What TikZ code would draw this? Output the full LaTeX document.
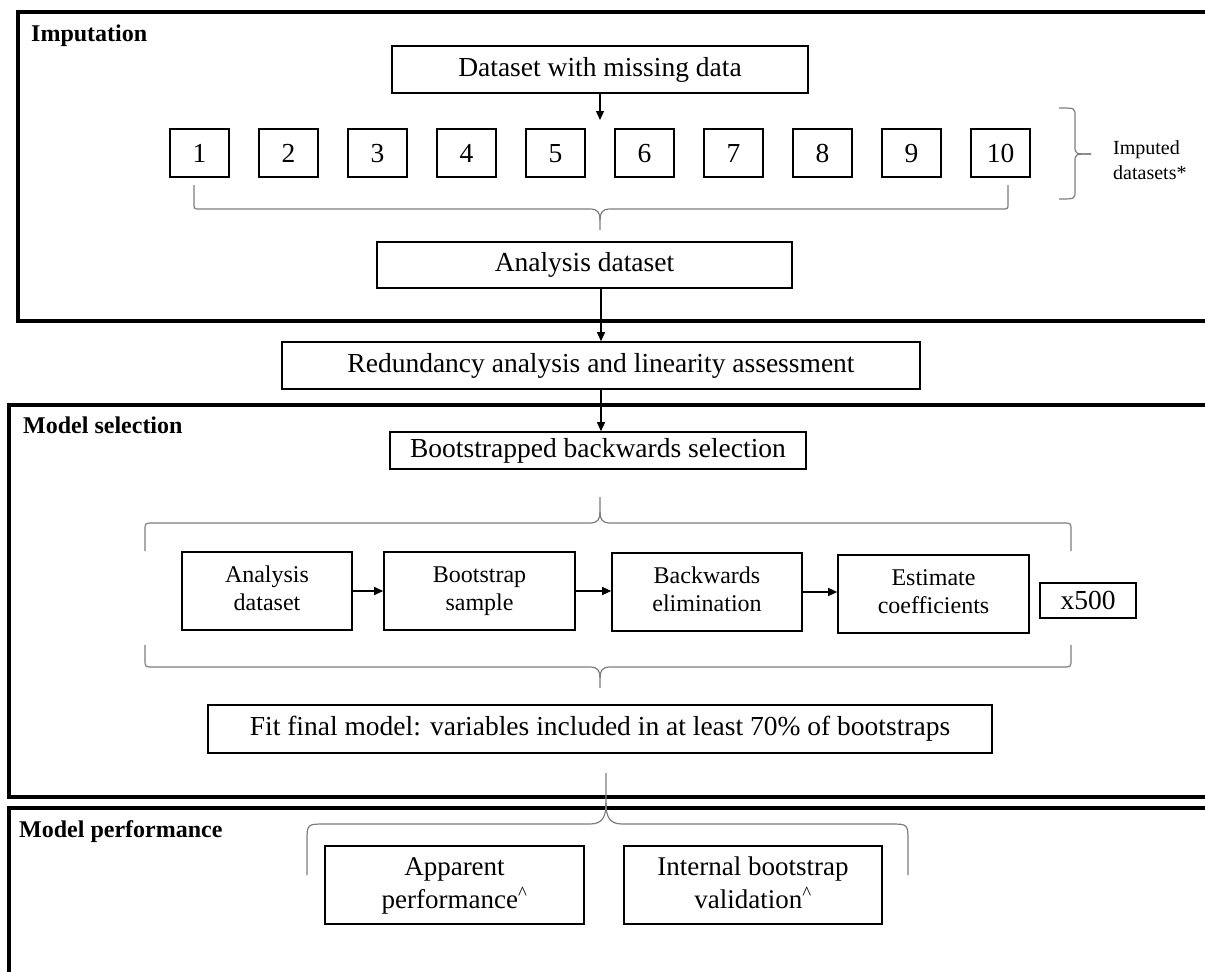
\documentclass[tikz,border=0pt]{standalone}
\usepackage{fontspec}
\setmainfont{Liberation Serif}
\usetikzlibrary{arrows.meta}
\definecolor{bracegray}{RGB}{125,125,125}
\tikzset{
  box/.style={draw=black, line width=1.6pt, inner sep=0pt, align=center,
    font=\fontsize{27.5}{33}\selectfont},
  numbox/.style={draw=black, line width=1.6pt, inner sep=0pt,
    font=\fontsize{27.5}{33}\selectfont, minimum width=59pt, minimum height=48pt,
    text height=19pt, text depth=0pt},
  small/.style={box, font=\fontsize{24}{28}\selectfont, minimum height=78pt},
  panel/.style={draw=black, line width=4pt},
  lab/.style={font=\bfseries\fontsize{24}{28}\selectfont, inner sep=0pt},
  brc/.style={draw=bracegray, line width=1.2pt},
  arr/.style={draw=black, line width=1.1pt, -{Triangle[length=9pt,width=8pt]}},
}
\begin{document}
\begin{tikzpicture}[x=1pt,y=-1pt]
\useasboundingbox (0,0) rectangle (1205,972);
\clip (0,0) rectangle (1205,972);
\fill[white] (0,0) rectangle (1205,972);

% panels
\draw[panel] (18,12) rectangle (1260,321);
\draw[panel] (9,405) rectangle (1260,797);
\draw[panel] (9,808) rectangle (1260,1030);

\node[lab, anchor=base west] (limp) at (31,41) {Imputation};
\node[lab, anchor=base west] (lsel) at (23,433) {Model selection};
\node[lab, anchor=base west] (lper) at (19,837) {Model performance};

% imputation
\node[box, minimum width=416pt, minimum height=47pt] (ds) at (600,69.5) {Dataset with missing data};
\foreach \i in {1,...,10} {
  \node[numbox] (n\i) at ({199.5+89*(\i-1)},153) {\i};
}
\coordinate (dstip) at (600,120);
\draw[arr] (ds.south) -- (dstip);

\node[align=left, inner sep=0pt, anchor=west, font=\fontsize{20}{25}\selectfont] (imp) at (1113,160) {Imputed\\datasets*};

% brace under numbers
\draw[brc] (194,185) -- (194,203) .. controls (194,209) .. (200,209) -- (590,209) .. controls (598,209) and (600,213) .. (600,220) -- (600,230);
\draw[brc] (1008,185) -- (1008,203) .. controls (1008,209) .. (1002,209) -- (610,209) .. controls (602,209) and (600,213) .. (600,220);
% right brace
\draw[brc] (1059,108) .. controls (1075,108) .. (1075,116) -- (1075,146) .. controls (1075,154) .. (1091,154);
\draw[brc] (1059,199) .. controls (1075,199) .. (1075,191) -- (1075,162) .. controls (1075,154) .. (1091,154);

\node[box, minimum width=415pt, minimum height=46pt] (ana) at (584.5,265) {Analysis dataset};

\node[box, minimum width=638pt, minimum height=47pt] (red) at (601,365.5) {Redundancy analysis and linearity assessment};
\draw[arr] (red.north |- ana.south) -- (red.north);

% model selection
\node[box, minimum width=416pt, minimum height=37pt] (boot) at (598,450.5) {Bootstrapped backwards selection};
\draw[arr] (red.south) -- (red.south |- boot.north);

% top brace (tip up)
\draw[brc] (145,551) -- (145,531) .. controls (145,523) .. (153,523) -- (590,523) .. controls (598,523) and (600,519) .. (600,512) -- (600,497);
\draw[brc] (1071,551) -- (1071,531) .. controls (1071,523) .. (1063,523) -- (610,523) .. controls (602,523) and (600,519) .. (600,512);

\node[small, minimum width=170pt] (a1) at (267,591) {Analysis\strut\\dataset\strut};
\node[small, minimum width=191pt] (a2) at (479.5,591) {Bootstrap\strut\\sample\strut};
\node[small, minimum width=190pt] (a3) at (707,592) {Backwards\strut\\elimination\strut};
\node[small, minimum width=191pt] (a4) at (933.5,594) {Estimate\strut\\coefficients\strut};
\node[box, minimum width=96pt, minimum height=35pt] (x500) at (1088,600.5) {x500};
\draw[arr] (a1.east) -- (a2.west);
\draw[arr] (a2.east) -- (a3.west |- a2.east);
\draw[arr] (a3.east) -- (a4.west |- a3.east);

% bottom brace (tip down)
\draw[brc] (145,645) -- (145,659) .. controls (145,667) .. (153,667) -- (590,667) .. controls (598,667) and (600,671) .. (600,678) -- (600,688);
\draw[brc] (1071,645) -- (1071,659) .. controls (1071,667) .. (1063,667) -- (610,667) .. controls (602,667) and (600,671) .. (600,678);

\node[box, minimum width=784pt, minimum height=48pt] (fit) at (600,729) {Fit final model: variables included in at least 70\% of bootstraps};

% performance brace (tip up)
\draw[brc] (307,875) -- (307,842) .. controls (307,824) .. (325,824) -- (590,824) .. controls (603,824) and (606,816) .. (606,803) -- (606,773);
\draw[brc] (908,875) -- (908,842) .. controls (908,824) .. (890,824) -- (622,824) .. controls (609,824) and (606,816) .. (606,803);

\node[small, minimum width=259pt, font=\fontsize{27}{33}\selectfont] (p1) at (454.5,885) {Apparent\strut\\performance\textsuperscript{\textasciicircum}\strut};
\node[small, minimum width=258pt, font=\fontsize{27}{33}\selectfont] (p2) at (753,885) {Internal bootstrap\strut\\validation\textsuperscript{\textasciicircum}\strut};
\end{tikzpicture}
\end{document}
